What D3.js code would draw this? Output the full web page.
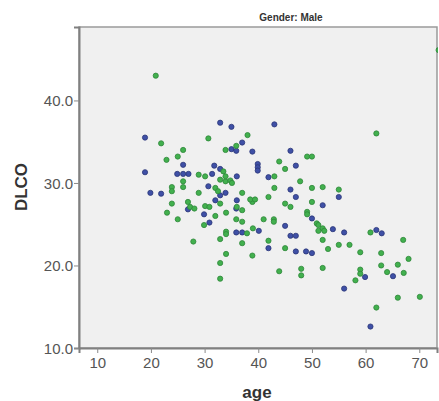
<!DOCTYPE html>
<html>
<head>
<meta charset="utf-8">
<script src="https://cdn.jsdelivr.net/npm/d3@7"></script>
<style>
  body { margin: 0; background: #fff; }
  svg { display: block; }
</style>
</head>
<body>
<svg id="chart" width="439" height="401"></svg>
<script>
// two groups of points (age, DLCO)
var bluePoints = [
  [18.9,35.5],[26.0,32.2],[18.9,31.3],[24.9,31.1],[26.0,31.1],[27.0,31.1],[19.9,28.8],[21.9,28.7],
  [30.7,29.6],[26.9,26.8],[29.9,26.2],[30.9,25.2],[32.9,37.3],[35.0,36.8],[43.0,37.1],[37.0,34.9],
  [35.0,34.1],[35.9,33.9],[38.9,33.8],[46.0,33.9],[47.0,32.1],[39.9,32.3],[39.9,31.9],[39.9,31.5],
  [31.8,32.1],[32.9,31.7],[31.4,31.1],[36.0,30.8],[41.9,30.7],[46.0,29.2],[47.0,28.3],[32.0,27.9],
  [32.9,28.5],[33.9,28.8],[36.0,27.9],[35.9,26.9],[35.9,24.0],[37.0,24.0],[40.1,24.2],[41.9,22.1],
  [45.0,24.8],[46.0,23.6],[47.0,23.6],[47.0,21.7],[48.9,21.7],[50.0,21.5],[50.0,25.7],[52.0,27.3],
  [55.0,28.3],[53.9,24.4],[56.0,24.0],[62.0,24.3],[63.0,23.9],[59.9,18.6],[56.0,17.2],[65.1,18.7],
  [60.9,12.6]
];
var greenPoints = [
  [20.9,43.0],[21.9,34.8],[26.0,34.0],[25.0,33.2],[22.9,32.8],[30.7,35.4],[28.9,31.0],[30.1,30.8],
  [26.0,30.2],[26.0,29.5],[23.9,29.5],[23.9,29.0],[28.9,28.8],[23.9,27.5],[26.9,27.7],[27.3,27.1],
  [28.1,26.9],[30.1,27.2],[30.9,27.1],[23.0,26.4],[25.0,25.6],[29.9,24.9],[27.9,22.9],[32.9,23.2],
  [34.0,21.4],[32.9,20.3],[32.9,18.4],[38.9,21.2],[37.0,22.7],[43.9,19.3],[48.0,19.6],[48.0,18.8],
  [41.9,23.0],[45.0,22.1],[42.9,25.6],[42.9,25.3],[41.0,25.6],[39.0,24.5],[37.9,23.9],[34.0,24.1],
  [34.0,23.8],[34.0,26.4],[32.0,26.0],[35.9,25.6],[37.0,25.3],[37.0,26.7],[36.0,27.1],[37.0,28.8],
  [38.9,27.7],[38.5,28.0],[39.4,28.0],[41.9,28.3],[45.0,27.5],[46.0,27.1],[49.1,26.5],[49.1,26.2],
  [50.0,27.7],[50.9,25.1],[32.9,27.5],[32.9,30.4],[33.9,30.2],[34.8,30.3],[32.0,29.4],[32.5,29.0],
  [43.0,29.4],[43.0,30.8],[47.8,30.2],[50.0,29.4],[33.9,34.0],[35.9,34.5],[38.0,35.8],[43.9,32.6],
  [45.0,31.7],[49.1,33.2],[50.0,33.2],[33.5,31.4],[33.9,30.8],[35.1,30.0],[62.0,36.0],[52.0,29.5],
  [55.0,29.2],[51.2,24.9],[52.0,24.5],[51.2,24.2],[52.3,24.2],[52.0,23.1],[53.0,22.0],[55.0,22.5],
  [57.0,22.5],[59.0,21.6],[52.0,19.7],[59.0,19.5],[59.0,19.0],[58.1,18.2],[60.9,24.0],[67.0,23.1],
  [62.9,21.5],[68.0,20.8],[62.9,20.0],[64.0,19.2],[66.0,20.1],[67.1,19.1],[66.0,16.1],[70.1,16.2],
  [62.0,14.9],[73.6,46.1]
];
var xTicks = [10, 20, 30, 40, 50, 60, 70];
var yTicks = [10, 20, 30, 40];
var titleText = "Gender: Male";
var xLabel = "age";
var yLabel = "DLCO";

var svg = d3.select("#chart");
var font = '"Liberation Sans", Arial, sans-serif';

var plot = { left: 79, top: 27, right: 437, bottom: 348 };

var x = d3.scaleLinear().domain([6.6, 73.3]).range([plot.left, plot.right]);
var y = d3.scaleLinear().domain([10, 48.9]).range([plot.bottom, plot.top]);

svg.append("defs").append("clipPath")
  .attr("id", "plotClip")
  .append("rect")
  .attr("x", plot.left)
  .attr("y", plot.top)
  .attr("width", plot.right - plot.left + 1)
  .attr("height", plot.bottom - plot.top);

// plot background + frame
svg.append("rect")
  .attr("x", plot.left)
  .attr("y", plot.top)
  .attr("width", plot.right - plot.left)
  .attr("height", plot.bottom - plot.top)
  .style("fill", "#f0f0f0")
  .style("stroke", "#9a9a9a")
  .style("stroke-width", 1.5);

// axes
var yAxis = svg.append("g")
  .attr("transform", "translate(" + plot.left + ",0)")
  .call(d3.axisLeft(y).tickValues(yTicks).tickSize(5).tickFormat(d3.format(".1f")));
var xAxis = svg.append("g")
  .attr("transform", "translate(0," + plot.bottom + ")")
  .call(d3.axisBottom(x).tickValues(xTicks).tickSize(5).tickFormat(d3.format("d")));

[yAxis, xAxis].forEach(function (g) {
  g.select(".domain").style("stroke", "#808080").style("stroke-width", 2);
  g.selectAll(".tick line").style("stroke", "#8a8a8a").style("stroke-width", 1);
  g.selectAll(".tick text")
    .style("fill", "#555")
    .style("font-size", "15px")
    .attr("font-family", font);
});
yAxis.selectAll(".tick text").attr("x", -6).attr("dy", "0.36em");
xAxis.selectAll(".tick text").attr("y", 9);

// points
var pointG = svg.append("g").attr("clip-path", "url(#plotClip)");
pointG.selectAll("circle.blue")
  .data(bluePoints)
  .enter().append("circle")
  .attr("class", "blue")
  .attr("cx", function (d) { return x(d[0]); })
  .attr("cy", function (d) { return y(d[1]); })
  .attr("r", 2.6)
  .style("fill", "#3f50a6")
  .style("stroke", "#2b3677")
  .style("stroke-width", 0.8);

pointG.selectAll("circle.green")
  .data(greenPoints)
  .enter().append("circle")
  .attr("class", "green")
  .attr("cx", function (d) { return x(d[0]); })
  .attr("cy", function (d) { return y(d[1]); })
  .attr("r", 2.6)
  .style("fill", "#42b04e")
  .style("stroke", "#2f873a")
  .style("stroke-width", 0.8);

// title and axis labels
svg.append("text")
  .attr("x", 291)
  .attr("y", 21)
  .style("text-anchor", "middle")
  .style("font-size", "10px")
  .style("font-weight", "bold")
  .style("fill", "#333")
  .attr("font-family", font)
  .text(titleText);

svg.append("text")
  .attr("x", 257)
  .attr("y", 398)
  .style("text-anchor", "middle")
  .style("font-size", "17px")
  .style("font-weight", "bold")
  .style("fill", "#333")
  .attr("font-family", font)
  .text(xLabel);

svg.append("text")
  .attr("transform", "translate(27,187) rotate(-90)")
  .style("text-anchor", "middle")
  .style("font-size", "17px")
  .style("font-weight", "bold")
  .style("fill", "#333")
  .attr("font-family", font)
  .text(yLabel);
</script>
</body>
</html>
